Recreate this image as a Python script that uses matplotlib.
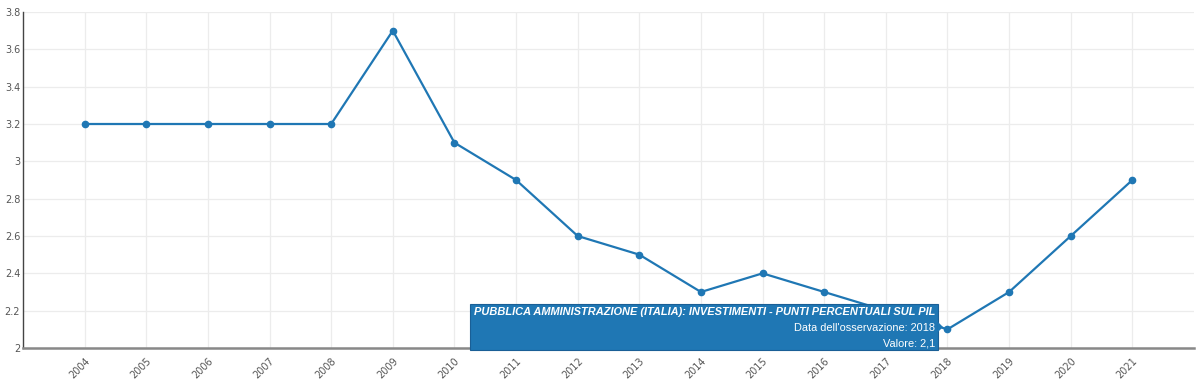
import matplotlib
matplotlib.use("Agg")
import matplotlib.pyplot as plt
from matplotlib.patches import FancyBboxPatch, Polygon

years = [2004, 2005, 2006, 2007, 2008, 2009, 2010, 2011, 2012, 2013,
         2014, 2015, 2016, 2017, 2018, 2019, 2020, 2021]
valori = [3.2, 3.2, 3.2, 3.2, 3.2, 3.7, 3.1, 2.9, 2.6, 2.5,
          2.3, 2.4, 2.3, 2.2, 2.1, 2.3, 2.6, 2.9]
y_ticks = [2, 2.2, 2.4, 2.6, 2.8, 3, 3.2, 3.4, 3.6, 3.8]
y_labels = ["2", "2.2", "2.4", "2.6", "2.8", "3", "3.2", "3.4", "3.6", "3.8"]

tip_title = "PUBBLICA AMMINISTRAZIONE (ITALIA): INVESTIMENTI - PUNTI PERCENTUALI SUL PIL"
tip_anno = 2018
tip_valore = "2,1"

blu = "#1f77b4"

fig = plt.figure(figsize=(12, 3.8), dpi=100)
ax = fig.add_axes([23 / 1200, 1 - 348 / 380, (1194 - 23) / 1200, (348 - 12) / 380])

ax.plot(years, valori, color=blu, lw=1.6, marker="o", ms=4.5, zorder=3)

ax.set_xlim(2003, 2022)
ax.set_ylim(2, 3.8)
ax.set_xticks(years)
ax.set_xticklabels([str(y) for y in years], rotation=45, fontsize=7,
                   color="#555555", ha="right", rotation_mode="anchor")
ax.set_yticks(y_ticks)
ax.set_yticklabels(y_labels, fontsize=7, color="#555555")
ax.tick_params(axis="both", length=0)
ax.tick_params(axis="x", pad=6)
ax.tick_params(axis="y", pad=2)

ax.grid(True, color="#ececec", lw=0.9)
ax.set_axisbelow(True)
for s in ["top", "right"]:
    ax.spines[s].set_visible(False)
ax.spines["left"].set_color("#444444")
ax.spines["left"].set_linewidth(1.0)
ax.spines["bottom"].set_color("#888888")
ax.spines["bottom"].set_linewidth(1.8)

# riquadro del tooltip, in coordinate pixel della figura
box_l, box_r, box_t, box_b = 470, 938, 304, 350
box = FancyBboxPatch((box_l / 1200, 1 - box_b / 380), (box_r - box_l) / 1200,
                     (box_b - box_t) / 380, boxstyle="square,pad=0",
                     transform=fig.transFigure, facecolor=blu,
                     edgecolor="#1a5f96", lw=0.8, zorder=5)
fig.patches.append(box)
arrow = Polygon([(box_r / 1200, 1 - 322 / 380), (box_r / 1200, 1 - 332 / 380),
                 ((box_r + 5) / 1200, 1 - 327 / 380)], closed=True,
                transform=fig.transFigure, facecolor=blu, edgecolor="none", zorder=5)
fig.patches.append(arrow)

fs = 7.9
fig.text((box_r - 3) / 1200, 1 - 312 / 380, tip_title, ha="right", va="center",
         color="white", fontsize=fs, fontweight="bold", fontstyle="italic",
         family="Liberation Sans", zorder=6)
fig.text((box_r - 3) / 1200, 1 - 328 / 380, "Data dell'osservazione: " + str(tip_anno),
         ha="right", va="center", color="white", fontsize=fs,
         family="Liberation Sans", zorder=6)
fig.text((box_r - 3) / 1200, 1 - 343 / 380, "Valore: " + tip_valore,
         ha="right", va="center", color="white", fontsize=fs,
         family="Liberation Sans", zorder=6)

fig.savefig("out.png", dpi=100)
